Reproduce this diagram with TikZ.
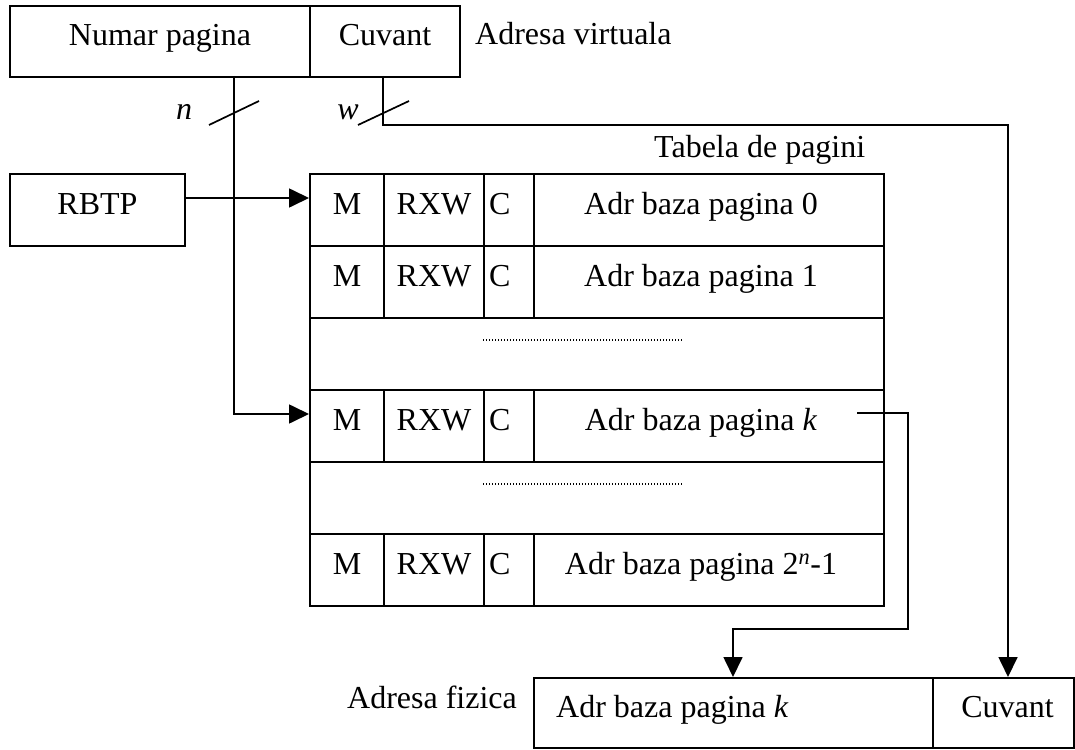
\documentclass[tikz,border=0pt]{standalone}
\usepackage{fontspec}
\setmainfont{Liberation Serif}
\usetikzlibrary{arrows.meta,calc}

\tikzset{
  txt/.style={inner sep=0pt, text height=20pt, text depth=12pt,
              font=\fontsize{32}{38}\selectfont},
  cell/.style={txt, draw, line width=2pt, anchor=north west,
               minimum height=72pt},
  leftcell/.style={cell, align=left, inner xsep=5pt},
  wire/.style={line width=1.7pt},
  arr/.style={wire, -{Triangle[length=20pt,width=19pt]}},
  dotline/.style={line width=1.2pt, dash pattern=on 1.2pt off 1.8pt},
}

\begin{document}
\begin{tikzpicture}[x=1pt,y=-1pt]
\useasboundingbox (0,0) rectangle (1075,749);

% virtual address
\node[cell, minimum width=300pt, minimum height=71pt] (np) at (9,5) {Numar pagina};
\node[cell, minimum width=150pt, minimum height=71pt] (cw) at (309,5) {Cuvant};
\node[txt, anchor=base west] (va) at (475,45) {Adresa virtuala};

% page table base register
\node[cell, minimum width=175pt] (rbtp) at (9,173) {RBTP};

% page table
\node[txt, anchor=base west] (tt) at (654,157) {Tabela de pagini};
\foreach \r/\lab in {0/0, 1/1, 3/{\textit{k}}, 5/{2\textsuperscript{\textit{n}}-1}} {
  \node[cell, minimum width=74pt]  (m\r) at (309,{173+72*\r}) {M};
  \node[cell, minimum width=100pt] (x\r) at (383,{173+72*\r}) {RXW};
  \node[leftcell, text width=40pt] (c\r) at (483,{173+72*\r}) {C};
  \node[cell, minimum width=350pt] (a\r) at (533,{173+72*\r}) {};
  \node[txt] (t\r) at ([xshift=-8pt]a\r.center) {Adr baza pagina \lab};
}
\foreach \r in {2,4} {
  \node[cell, minimum width=574pt] (g\r) at (309,{173+72*\r}) {};
  \draw[dotline] ([xshift=174pt,yshift=-23pt]g\r.north west) -- ++(199,0);
}

% physical address
\node[cell, minimum width=399pt, minimum height=70pt] (pab) at (533,677) {};
\node[txt, anchor=west] (pabt) at ([xshift=23pt]pab.west) {Adr baza pagina \textit{k}};
\node[cell, minimum width=141pt, minimum height=70pt] (pcw) at (932,677) {};
\node[txt] (pcwt) at ([xshift=4pt]pcw.center) {Cuvant};
\node[txt, anchor=base west] (fa) at (347,708) {Adresa fizica};

% bus widths
\coordinate (nsrc) at (234,76);
\coordinate (wsrc) at (383,76);
\coordinate (wturn) at (1008,125);
\draw[wire] (209,125) -- (259,101);
\draw[wire] (358,125) -- (409,101);
\node[txt, anchor=base] (nl) at (184,120) {\textit{n}};
\node[txt, anchor=base] (wl) at (348,120) {\textit{w}};

% connectors
\draw[arr] ([yshift=12pt]rbtp.east) -- ([yshift=12pt]rbtp.east -| m0.west);
\draw[arr] (nsrc) |- ([yshift=12pt]m3.west);
\draw[arr] (wsrc) |- (wturn) -- (wturn |- pcw.north);
\coordinate (kout) at (857,413);
\coordinate (kdrop) at (733,629);
\draw[arr] (kout) -- (908,413) |- (kdrop) -- (kdrop |- pab.north);
\end{tikzpicture}
\end{document}
